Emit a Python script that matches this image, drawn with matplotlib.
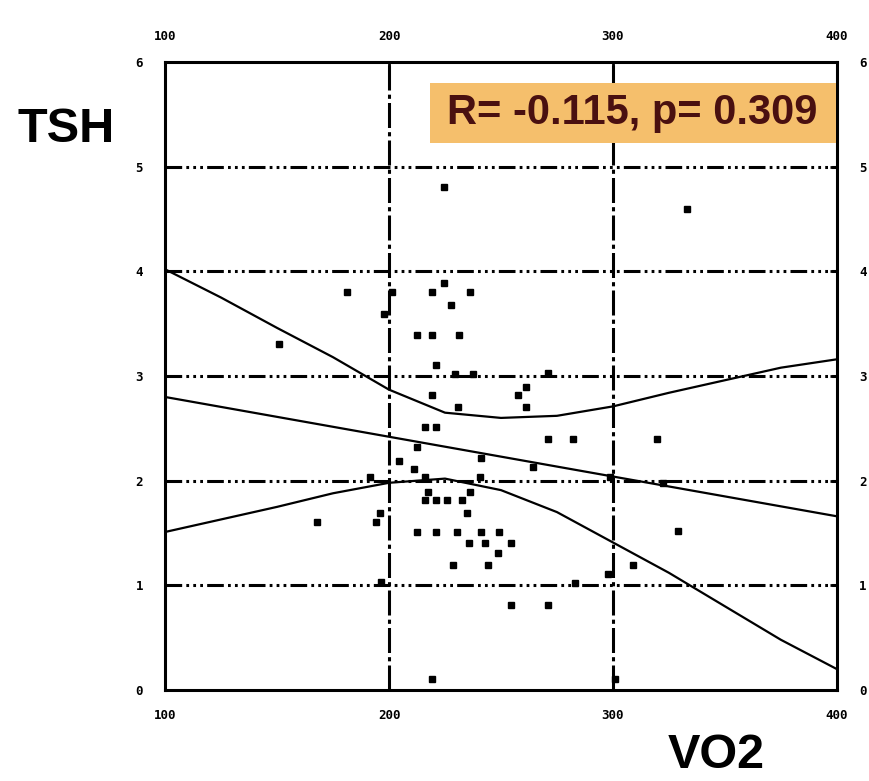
import matplotlib
matplotlib.use('Agg')
import matplotlib.pyplot as plt
from matplotlib.patches import Rectangle

# VO2 vs TSH scatter
vo2 = [224.6, 333.0, 181.3, 201.3, 219.2, 236.2, 224.6, 227.7, 197.8, 150.9,
       212.5, 219.2, 231.3, 221.0, 229.5, 237.5, 271.0, 261.2, 257.6, 261.2,
       219.2, 230.8, 216.1, 221.0, 271.0, 282.1, 319.6, 212.5, 241.1, 264.3,
       204.5, 211.2, 191.5, 216.1, 240.6, 298.7, 322.3, 217.4, 236.2, 216.1,
       221.0, 225.9, 232.6, 234.8, 196.0, 194.2, 167.9, 212.5, 221.0, 230.4,
       241.1, 249.1, 329.0, 235.7, 242.9, 254.5, 248.7, 228.6, 244.2, 308.9,
       297.8, 283.0, 196.4, 254.5, 271.0, 219.2, 300.9]
tsh = [4.81, 4.60, 3.80, 3.80, 3.80, 3.80, 3.89, 3.68, 3.59, 3.31,
       3.39, 3.39, 3.39, 3.11, 3.02, 3.02, 3.03, 2.90, 2.82, 2.70,
       2.82, 2.70, 2.51, 2.51, 2.40, 2.40, 2.40, 2.32, 2.22, 2.13,
       2.19, 2.11, 2.04, 2.04, 2.04, 2.04, 1.98, 1.89, 1.89, 1.82,
       1.82, 1.82, 1.82, 1.69, 1.69, 1.61, 1.61, 1.51, 1.51, 1.51,
       1.51, 1.51, 1.52, 1.40, 1.40, 1.40, 1.31, 1.19, 1.19, 1.19,
       1.11, 1.02, 1.03, 0.81, 0.81, 0.11, 0.11]

# regression line and confidence band
fit_x = [100, 400]
fit_y = [2.80, 1.66]
band_x = [100, 125, 150, 175, 200, 225, 250, 275, 300, 325, 350, 375, 400]
band_hi = [4.02, 3.75, 3.46, 3.18, 2.87, 2.65, 2.60, 2.62, 2.71, 2.84, 2.96, 3.08, 3.16]
band_lo = [1.51, 1.63, 1.75, 1.88, 1.98, 2.02, 1.91, 1.70, 1.41, 1.12, 0.80, 0.48, 0.20]

xticks = [100, 200, 300, 400]
yticks = [0, 1, 2, 3, 4, 5, 6]

plt.rcParams['lines.scale_dashes'] = False

fig = plt.figure(figsize=(8.69, 7.81), dpi=100)
ax = fig.add_axes([0.190, 0.1165, 0.773, 0.804])

ax.set_xlim(100, 400)
ax.set_ylim(0, 6)

# grid
for y in yticks[1:-1]:
    ax.axhline(y, color='black', lw=2.2,
               linestyle=(0, (12, 3, 2, 3, 2, 3, 2, 3)), zorder=1)
for x in xticks[1:-1]:
    ax.axvline(x, color='black', lw=2.2,
               linestyle=(0, (18, 3, 3, 3)), zorder=1)

ax.plot(fit_x, fit_y, color='black', lw=1.6, zorder=2)
ax.plot(band_x, band_hi, color='black', lw=1.6, zorder=2)
ax.plot(band_x, band_lo, color='black', lw=1.6, zorder=2)
ax.plot(vo2, tsh, 's', color='black', ms=5, zorder=3)

for s in ax.spines.values():
    s.set_linewidth(2.2)

ax.set_xticks(xticks)
ax.set_yticks(yticks)
ax.tick_params(direction='in', length=5, width=2,
               top=True, right=True, labeltop=True, labelright=True)
ax.tick_params(axis='x', which='both', pad=14, labelsize=9)
ax.tick_params(axis='y', which='both', pad=16, labelsize=9)
for lab in ax.get_xticklabels() + ax.get_yticklabels():
    lab.set_fontweight('bold')
    lab.set_family('DejaVu Sans Mono')

# axis titles
fig.text(18 / 869, 1 - 107 / 781, 'TSH', fontsize=35, fontweight='bold',
         family='Liberation Sans', ha='left', va='top')
fig.text(668 / 869, 3 / 781, 'VO2', fontsize=35, fontweight='bold',
         family='Liberation Sans', ha='left', va='bottom')

# correlation box
ax.add_patch(Rectangle((0.394, 0.871), 0.604, 0.096, transform=ax.transAxes,
                       facecolor='#f5bf6c', edgecolor='none', zorder=4))
ax.text(0.695, 0.919, 'R= -0.115, p= 0.309', transform=ax.transAxes,
        ha='center', va='center', fontsize=30, fontweight='bold',
        family='Liberation Sans', color='#4a1010', zorder=5)

fig.savefig('out.png', dpi=100)
